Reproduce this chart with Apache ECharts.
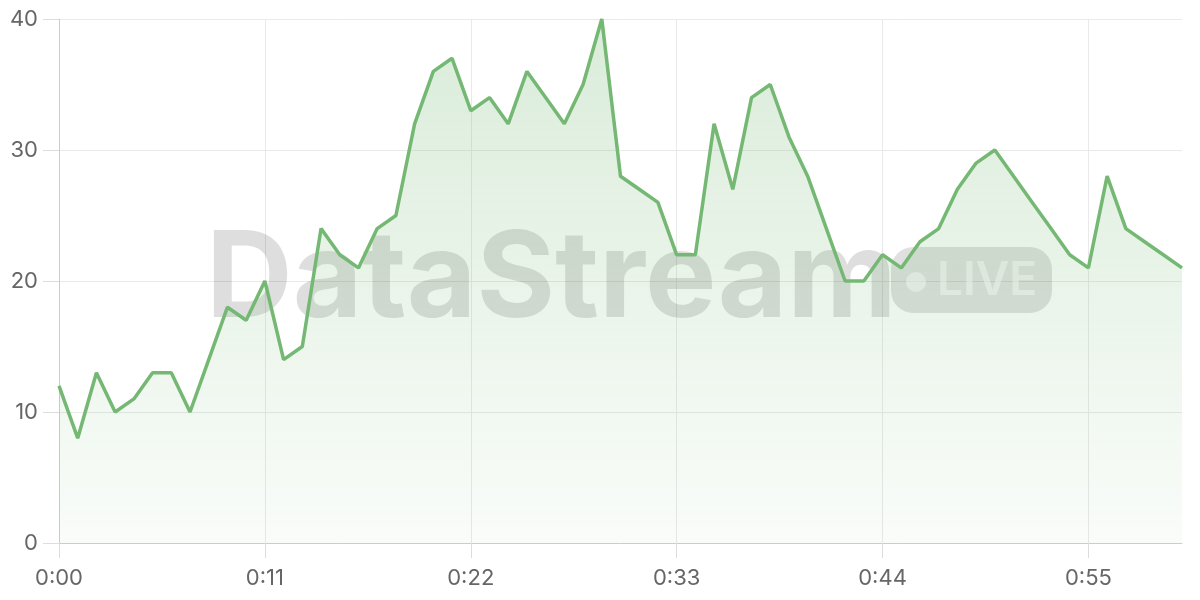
<!DOCTYPE html>
<html>
<head>
<meta charset="utf-8">
<script src="https://cdn.jsdelivr.net/npm/echarts@6/dist/echarts.min.js"></script>
<style>
html,body{margin:0;padding:0;background:#fff;}
#chart{width:1200px;height:600px;}
</style>
</head>
<body>
<div id="chart"></div>
<script>
// Data
var categories = [];
for (var m = 0; m <= 60; m++) {
  categories.push(Math.floor(m / 60) + ':' + String(m % 60).padStart(2, '0'));
}
var values = [
  12, 8, 13, 10, 11, 13, 13, 10, 14, 18,
  17, 20, 14, 15, 24, 22, 21, 24, 25, 32,
  36, 37, 33, 34, 32, 36, 34, 32, 35, 40,
  28, 27, 26, 22, 22, 32, 27, 34, 35, 31,
  28, 24, 20, 20, 22, 21, 23, 24, 27, 29,
  30, 28, 26, 24, 22, 21, 28, 24, 23, 22,
  21
];
var yTicks = [0, 10, 20, 30, 40];
var watermarkMain = 'DataStream';
var watermarkBadge = 'LIVE';

var chart = echarts.init(document.getElementById('chart'), null, {renderer: 'canvas'});
var font = 'Inter, "Noto Sans", sans-serif';
var option = {
  animation: false,
  grid: {left: 59, right: 18, top: 19, bottom: 57, containLabel: false},
  xAxis: {
    type: 'category',
    data: categories,
    boundaryGap: false,
    axisLine: {show: true, lineStyle: {color: '#cccccc', width: 1}},
    axisTick: {show: true, length: 15, interval: 10, lineStyle: {color: '#dddddd'}},
    axisLabel: {interval: 10, color: '#666666', fontSize: 22, fontFamily: font, margin: 24},
    splitLine: {show: true, interval: 10, lineStyle: {color: '#e9e9e9', width: 1}}
  },
  yAxis: {
    type: 'value',
    min: yTicks[0],
    max: yTicks[yTicks.length - 1],
    interval: 10,
    axisLine: {show: true, lineStyle: {color: '#cccccc', width: 1}},
    axisTick: {show: true, length: 16, lineStyle: {color: '#dddddd'}},
    axisLabel: {color: '#666666', fontSize: 22, fontFamily: font, margin: 21},
    splitLine: {show: true, lineStyle: {color: '#e9e9e9', width: 1}}
  },
  graphic: [
    {
      type: 'text', z: 1,
      style: {x: 206, y: 281, text: watermarkMain, font: '700 120px Inter, sans-serif',
              fill: 'rgba(0,0,0,0.13)', align: 'left', verticalAlign: 'middle'}
    },
    {
      type: 'rect', z: 1,
      shape: {x: 891, y: 247, width: 161, height: 66, r: 22},
      style: {fill: 'rgba(0,0,0,0.12)'}
    },
    {
      type: 'circle', z: 1, shape: {cx: 916, cy: 282, r: 10},
      style: {fill: 'rgba(255,255,255,0.55)'}
    },
    {
      type: 'text', z: 1,
      style: {x: 937, y: 281, text: watermarkBadge, font: '600 46px Inter, sans-serif',
              fill: 'rgba(255,255,255,0.55)', align: 'left', verticalAlign: 'middle'}
    }
  ],
  series: [{
    type: 'line',
    data: values,
    z: 3,
    symbol: 'none',
    lineStyle: {color: '#74b874', width: 3.5},
    areaStyle: {
      color: new echarts.graphic.LinearGradient(0, 0, 0, 1, [
        {offset: 0, color: 'rgba(116,184,116,0.38)'},
        {offset: 1, color: 'rgba(116,184,116,0.06)'}
      ])
    }
  }]
};
chart.setOption(option);
</script>
</body>
</html>
